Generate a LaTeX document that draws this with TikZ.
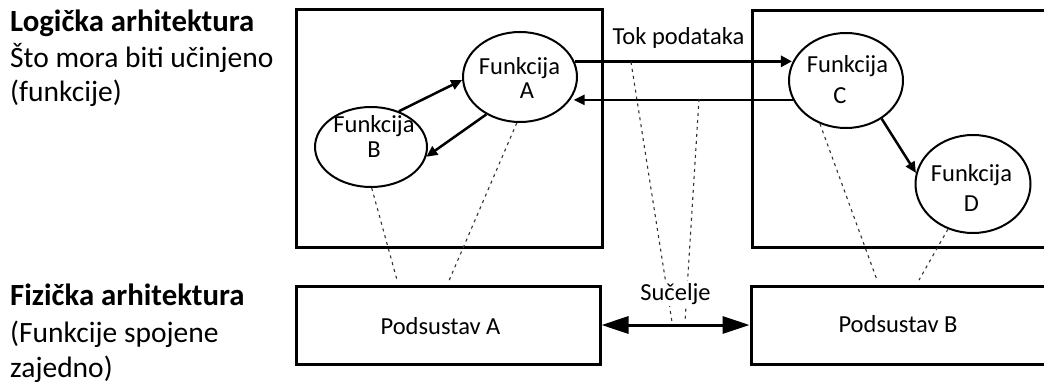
\documentclass[tikz,border=0pt]{standalone}
\usepackage{fontspec}
\setmainfont{Carlito}
\usetikzlibrary{shapes.geometric,arrows.meta,calc}
\begin{document}
\begin{tikzpicture}[x=1pt,y=-1pt,
  box/.style={draw, line width=3pt, rectangle, inner sep=0pt},
  fn/.style={draw, line width=2pt, ellipse, fill=white, inner sep=0pt},
  txt/.style={inner sep=0pt, anchor=base, font=\fontsize{24.5}{29}\selectfont},
  fnt/.style={inner sep=0pt, anchor=center, align=center},
  big/.style={inner sep=0pt, anchor=base west, font=\fontsize{29.5}{35}\selectfont},
  bigb/.style={big, font=\fontsize{30.8}{35}\selectfont\bfseries},
  link/.style={line width=1.1pt, black!80, dash pattern=on 3pt off 4pt},
  flow/.style={line width=2.5pt, -{Triangle[length=11pt,width=10pt]}},
  flowthick/.style={line width=3pt, -{Triangle[length=11pt,width=11pt]}},
  iface/.style={line width=3pt, {Triangle[length=27pt,width=17pt]}-{Triangle[length=27pt,width=17pt]}}
]
\useasboundingbox (0,0) rectangle (1044,385);

% left labels
\node[bigb] (l1) at (10,32) {Logička arhitektura};
\node[big] (l2) at (10,67.5) {Što mora biti učinjeno};
\node[big] (l3) at (10,102) {(funkcije)};
\node[bigb] (p1) at (10,305) {Fizička arhitektura};
\node[big] (p2) at (10,342) {(Funkcije spojene};
\node[big] (p3) at (10,377) {zajedno)};

% containers
\node[box, minimum width=306pt, minimum height=237pt] (LL) at (449,128.5) {};
\node[box, minimum width=308pt, minimum height=236pt] (LR) at (906,129) {};
\node[box, minimum width=304pt, minimum height=78pt] (PA) at (448,325) {};
\node[box, minimum width=309pt, minimum height=78pt] (PB) at (905.5,325) {};

% functions
\node[fn, minimum width=114pt, minimum height=90pt] (A) at (520,77) {};
\node[fn, minimum width=112pt, minimum height=80pt] (B) at (371,147) {};
\node[fn, minimum width=114pt, minimum height=95pt] (C) at (846,80.5) {};
\node[fn, minimum width=115pt, minimum height=98pt] (D) at (973,184) {};

% mapping lines
\coordinate (pa1) at (397,280);
\coordinate (pa2) at (448,283);
\coordinate (pb1) at (877,280);
\coordinate (pb2) at (919,280);
\draw[link] (B.-89) -- (pa1);
\draw[link] (A.-94) -- (pa2);
\draw[link] (C.-121) -- (pb1);
\draw[link] (D.-119) -- (pb2);

% flows
\draw[flow] (B.52) -- (A.183);
\draw[flow] (A.-132) -- (B.-10);
\draw[flowthick] (A.16) -- (A.16 -| C.162);
\draw[flow] (C.200) -- (C.200 -| A.-18);
\draw[flow] (C.-47) -- (D.169);
\draw[iface] (PA.east) -- (PA.east -| PB.west);

% interface mapping lines
\coordinate (t1) at (631,62);
\coordinate (t2) at (699,99);
\coordinate (b1) at (672,322);
\coordinate (b2) at (685,322);
\draw[link] (t1) -- (b1);
\draw[link] (t2) -- (b2);

% texts
\node[fnt, font=\fontsize{24.5}{24.5}\selectfont] (fA) at (519.5,77.9) {Funkcija\\\hspace*{15pt}A};
\node[fnt, font=\fontsize{24.5}{24.5}\selectfont] (fB) at (374,136.4) {Funkcija\\B};
\node[fnt, font=\fontsize{24.5}{31}\selectfont] (fC) at (847.5,79.9) {Funkcija\\C\hspace*{15pt}};
\node[fnt, font=\fontsize{24.5}{30}\selectfont] (fD) at (971.5,188.4) {Funkcija\\D};
\node[txt] (tok) at (678.5,45) {Tok podataka};
\node[txt, fill=white, inner sep=2pt] (suc) at (675.5,300) {Sučelje};
\node[txt] (sa) at (440.5,334) {Podsustav A};
\node[txt] (sb) at (898,332) {Podsustav B};
\end{tikzpicture}
\end{document}
